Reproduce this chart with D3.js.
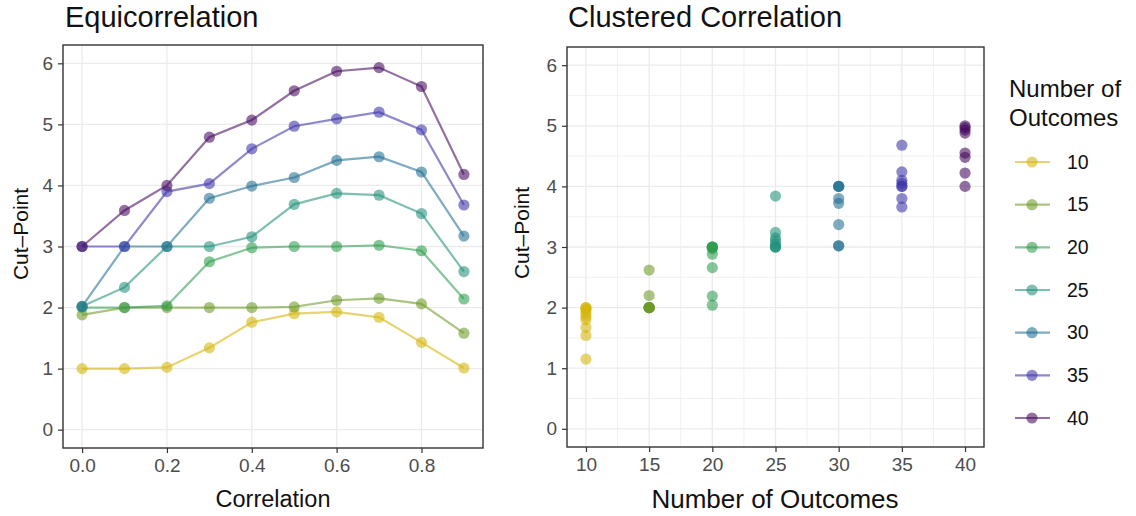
<!DOCTYPE html>
<html>
<head>
<meta charset="utf-8">
<script src="https://cdn.jsdelivr.net/npm/d3@7"></script>
<style>
  body { margin: 0; background: #fff; }
  svg text { font-family: "Liberation Sans", Arial, Helvetica, sans-serif; }
</style>
</head>
<body>
<svg id="chart" width="1136" height="516"></svg>
<script>
// ---- data ----
const outcomes = [10, 15, 20, 25, 30, 35, 40];
const correlations = [0.0, 0.1, 0.2, 0.3, 0.4, 0.5, 0.6, 0.7, 0.8, 0.9];

// Equicorrelation: cut-point by correlation, one row per number of outcomes
const equi10 = [1.00, 1.00, 1.02, 1.34, 1.76, 1.90, 1.93, 1.84, 1.43, 1.01];
const equi15 = [1.88, 2.00, 2.00, 2.00, 2.00, 2.01, 2.12, 2.15, 2.06, 1.58];
const equi20 = [2.00, 2.00, 2.03, 2.75, 2.98, 3.00, 3.00, 3.02, 2.93, 2.14];
const equi25 = [2.02, 2.33, 3.00, 3.00, 3.16, 3.69, 3.87, 3.84, 3.54, 2.59];
const equi30 = [2.02, 3.00, 3.00, 3.79, 3.99, 4.13, 4.41, 4.47, 4.22, 3.17];
const equi35 = [3.00, 3.00, 3.90, 4.03, 4.60, 4.97, 5.09, 5.20, 4.91, 3.68];
const equi40 = [3.00, 3.59, 4.00, 4.79, 5.07, 5.55, 5.87, 5.93, 5.62, 4.18];
const equiSeries = [equi10, equi15, equi20, equi25, equi30, equi35, equi40];

// Clustered correlation: cut-points observed for each number of outcomes
const clust10 = [2.00, 2.00, 1.98, 1.95, 1.90, 1.85, 1.80, 1.67, 1.54, 1.15];
const clust15 = [2.62, 2.20, 2.00, 2.00, 2.00, 2.00, 2.00, 2.00];
const clust20 = [3.00, 3.00, 3.00, 3.00, 2.97, 2.88, 2.66, 2.19, 2.04];
const clust25 = [3.84, 3.24, 3.15, 3.10, 3.05, 3.00, 3.00, 3.00];
const clust30 = [4.00, 4.00, 4.00, 3.80, 3.72, 3.37, 3.02, 3.02];
const clust35 = [4.68, 4.24, 4.10, 4.05, 4.00, 4.00, 3.80, 3.66];
const clust40 = [5.00, 4.97, 4.93, 4.88, 4.55, 4.48, 4.22, 4.00];
const clustSeries = [clust10, clust15, clust20, clust25, clust30, clust35, clust40];

const yTicks = [0, 1, 2, 3, 4, 5, 6];
const corrTicks = [0.0, 0.2, 0.4, 0.6, 0.8];
const outcomeTicks = [10, 15, 20, 25, 30, 35, 40];
const palette = ["#d4b508", "#6c9a26", "#2c9d4e", "#21907a", "#206e92", "#3c33a8", "#45095f"];

// ---- setup ----
const svg = d3.select("#chart");
const color = d3.scaleOrdinal().domain(outcomes).range(palette);
const PT_ALPHA = 0.58, LINE_ALPHA = 0.58;

function panel(opts) {
  const g = svg.append("g");
  const { x, y, xMinor, yMinor } = opts;
  const [x0, x1] = x.range();
  const [y0, y1] = y.range();
  // minor grid
  if (xMinor) g.selectAll(".vmin").data(xMinor).join("line")
    .attr("x1", d => x(d)).attr("x2", d => x(d)).attr("y1", y0).attr("y2", y1)
    .attr("stroke", "#ebebeb").attr("stroke-width", 0.7);
  if (yMinor) g.selectAll(".hmin").data(yMinor).join("line")
    .attr("y1", d => y(d)).attr("y2", d => y(d)).attr("x1", x0).attr("x2", x1)
    .attr("stroke", "#ebebeb").attr("stroke-width", 0.7);
  // major grid
  g.selectAll(".vmaj").data(opts.xTicks).join("line")
    .attr("x1", d => x(d)).attr("x2", d => x(d)).attr("y1", y0).attr("y2", y1)
    .attr("stroke", "#ebebeb").attr("stroke-width", 1.3);
  g.selectAll(".hmaj").data(yTicks).join("line")
    .attr("y1", d => y(d)).attr("y2", d => y(d)).attr("x1", x0).attr("x2", x1)
    .attr("stroke", "#ebebeb").attr("stroke-width", 1.3);
  return g;
}

function frame(g, x, y, xTicks, xFmt) {
  const [x0, x1] = x.range();
  const [y0, y1] = y.range();
  g.append("rect").attr("x", x0).attr("y", y1).attr("width", x1 - x0).attr("height", y0 - y1)
    .attr("fill", "none").attr("stroke", "#333").attr("stroke-width", 1.4);

  const ax = g.append("g").attr("transform", `translate(0,${y0})`)
    .call(d3.axisBottom(x).tickValues(xTicks).tickFormat(xFmt).tickSize(5).tickPadding(6));
  const ay = g.append("g").attr("transform", `translate(${x0},0)`)
    .call(d3.axisLeft(y).tickValues(yTicks).tickFormat(d3.format("d")).tickSize(5).tickPadding(5));
  [ax, ay].forEach(a => {
    a.select(".domain").remove();
    a.selectAll(".tick line").attr("stroke", "#333").attr("stroke-width", 1.2);
    a.selectAll(".tick text").attr("fill", "#4d4d4d").style("font-size", "19px");
  });
}

// ---- left: Equicorrelation ----
{
  const x = d3.scaleLinear().domain([-0.045, 0.945]).range([63, 483]);
  const y = d3.scaleLinear().domain([-0.3, 6.3]).range([448, 45]);
  const g = panel({ x, y, xTicks: corrTicks });

  const line = d3.line().x((d, i) => x(correlations[i])).y(d => y(d));
  g.selectAll(".series").data(equiSeries).join("path")
    .attr("d", d => line(d))
    .attr("fill", "none")
    .attr("stroke", (d, i) => color(outcomes[i]))
    .attr("stroke-opacity", LINE_ALPHA)
    .attr("stroke-width", 2.2);

  equiSeries.forEach((vals, i) => {
    g.selectAll(null).data(vals).join("circle")
      .attr("cx", (d, j) => x(correlations[j]))
      .attr("cy", d => y(d))
      .attr("r", 5.6)
      .attr("fill", color(outcomes[i]))
      .attr("fill-opacity", PT_ALPHA);
  });

  frame(g, x, y, corrTicks, d3.format(".1f"));

  svg.append("text").attr("x", 65).attr("y", 27).style("font-size", "29px").attr("fill", "#111")
    .text("Equicorrelation");
  svg.append("text").attr("x", 273).attr("y", 507).attr("text-anchor", "middle")
    .style("font-size", "23.5px").attr("fill", "#111").text("Correlation");
  svg.append("text").attr("transform", "translate(28,234) rotate(-90)").attr("text-anchor", "middle")
    .style("font-size", "21px").attr("fill", "#111").text("Cut\u2013Point");
}

// ---- right: Clustered Correlation ----
{
  const x = d3.scaleLinear().domain([8.5, 41.5]).range([567, 984]);
  const y = d3.scaleLinear().domain([-0.3, 6.3]).range([447, 47]);
  const g = panel({
    x, y, xTicks: outcomeTicks,
    xMinor: [12.5, 17.5, 22.5, 27.5, 32.5, 37.5],
    yMinor: [0.5, 1.5, 2.5, 3.5, 4.5, 5.5]
  });

  clustSeries.forEach((vals, i) => {
    g.selectAll(null).data(vals).join("circle")
      .attr("cx", x(outcomes[i]))
      .attr("cy", d => y(d))
      .attr("r", 5.6)
      .attr("fill", color(outcomes[i]))
      .attr("fill-opacity", PT_ALPHA);
  });

  frame(g, x, y, outcomeTicks, d3.format("d"));

  svg.append("text").attr("x", 568).attr("y", 27).style("font-size", "29px").attr("fill", "#111")
    .text("Clustered Correlation");
  svg.append("text").attr("x", 775).attr("y", 508).attr("text-anchor", "middle")
    .style("font-size", "26px").attr("fill", "#111").text("Number of Outcomes");
  svg.append("text").attr("transform", "translate(529,233) rotate(-90)").attr("text-anchor", "middle")
    .style("font-size", "21px").attr("fill", "#111").text("Cut\u2013Point");
}

// ---- legend ----
{
  const lg = svg.append("g");
  lg.append("text").attr("x", 1009).attr("y", 97).style("font-size", "24px").attr("fill", "#111").text("Number of");
  lg.append("text").attr("x", 1009).attr("y", 126).style("font-size", "24px").attr("fill", "#111").text("Outcomes");
  const ly = d3.scalePoint().domain(outcomes).range([162, 418]);
  const items = lg.selectAll(".item").data(outcomes).join("g")
    .attr("transform", d => `translate(0,${ly(d)})`);
  items.append("line").attr("x1", 1015).attr("x2", 1050)
    .attr("stroke", d => color(d)).attr("stroke-opacity", LINE_ALPHA).attr("stroke-width", 2.2);
  items.append("circle").attr("cx", 1032).attr("r", 5.6)
    .attr("fill", d => color(d)).attr("fill-opacity", PT_ALPHA);
  items.append("text").attr("x", 1067).attr("dy", "0.35em").style("font-size", "19.5px")
    .attr("fill", "#111").text(d => d);
}
</script>
</body>
</html>
